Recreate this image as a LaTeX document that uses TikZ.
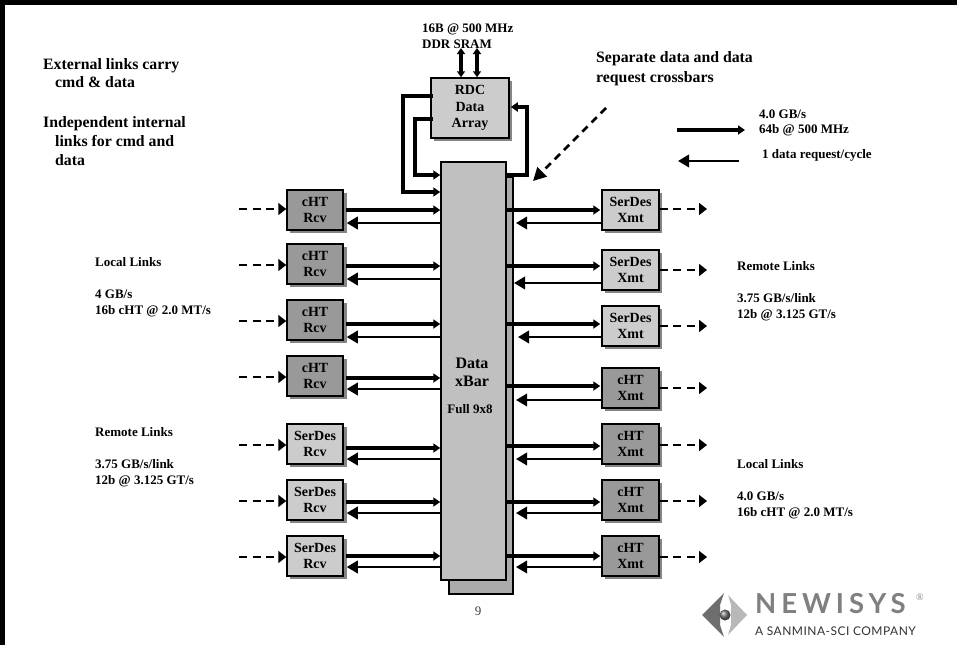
\documentclass[tikz,border=0pt]{standalone}
\usepackage{fontspec}
\setmainfont{Liberation Serif}
\newfontfamily\logofont[LetterSpace=18]{Lato}
\newfontfamily\logosub[LetterSpace=4]{Lato}
\usetikzlibrary{arrows.meta,shadings}
\definecolor{chtgray}{HTML}{999999}
\definecolor{sergray}{HTML}{CCCCCC}
\definecolor{bargray}{HTML}{C0C0C0}
\definecolor{backgray}{HTML}{ABABAB}
\definecolor{shadowgray}{HTML}{858585}
\definecolor{logodark}{HTML}{6E6E6E}
\definecolor{logotext}{HTML}{808080}
\tikzset{
  x=1pt,y=-1pt,
  blockbase/.style={draw=black,line width=1.5pt,inner sep=0pt,align=center,
    minimum width=56pt,minimum height=40pt,font=\bfseries\fontsize{14}{16.5}\selectfont},
  chtbox/.style={blockbase,fill=chtgray},
  serbox/.style={blockbase,fill=sergray},
  shadowbox/.style={fill=shadowgray,draw=none},
  label/.style={inner sep=0pt,anchor=base west,font=\bfseries\fontsize{13}{15}\selectfont},
  biglabel/.style={inner sep=0pt,anchor=base west,font=\bfseries\fontsize{15.8}{18}\selectfont},
  thickarrow/.style={line width=4pt,-{Triangle[length=7pt,width=9pt]}},
  thinarrow/.style={line width=2pt,-{Triangle[length=11pt,width=12.5pt]}},
  dasharrow/.style={line width=1.8pt,dash pattern=on 8pt off 5.5pt,-{Triangle[length=8pt,width=12pt]}},
  looparrow/.style={line width=3.5pt,line join=miter,-{Triangle[length=7pt,width=9pt]}},
  busarrow/.style={line width=3.5pt,{Triangle[length=6pt,width=8pt]}-{Triangle[length=6pt,width=8pt]}},
}
\begin{document}
\begin{tikzpicture}
\useasboundingbox (0,0) rectangle (957,645);
\fill[white] (0,0) rectangle (957,645);
% frame
\fill[black] (0,0) rectangle (957,4.5);
\fill[black] (0,0) rectangle (5,645);

% crossbar
\draw[fill=backgray,line width=1.5pt] (449,177) rectangle (513,594);
\node[blockbase,fill=bargray,minimum width=65pt,minimum height=418pt] (bar) at (473.5,371) {};
\node[font=\bfseries\fontsize{16}{18}\selectfont,inner sep=0pt,align=center] (barlabel) at (472,372) {Data\\xBar};
\node[font=\bfseries\fontsize{13}{15}\selectfont,inner sep=0pt] (barsub) at (470,409) {Full 9x8};

% RDC
\fill[shadowbox] (434,81) rectangle (512,141);
\node[blockbase,fill=sergray,minimum width=78pt,minimum height=60pt] (rdc) at (470,108) {RDC\\Data\\Array};

% left column
\foreach \n/\cy/\kind/\a/\b/\yt/\yb/\yd in {
 1/210/chtbox/cHT/Rcv/210/223/209,
 2/264/chtbox/cHT/Rcv/266/279/265,
 3/320/chtbox/cHT/Rcv/324/337/321,
 4/376/chtbox/cHT/Rcv/378/389/377,
 5/444/serbox/SerDes/Rcv/448/459/445,
 6/500/serbox/SerDes/Rcv/502/513/501,
 7/556/serbox/SerDes/Rcv/556/567/557}{
  \fill[shadowbox] (290,\cy-17) rectangle (346.5,\cy+23);
  \node[\kind] (r\n) at (315,\cy) {\a\\\b};
  \coordinate (rt\n) at (0,\yt);
  \coordinate (rb\n) at (0,\yb);
  \coordinate (rd\n) at (0,\yd);
  \coordinate (rs\n) at (239,\yd);
  \draw[thickarrow] ([xshift=2pt]r\n.east |- rt\n) -- (bar.west |- rt\n);
  \draw[thinarrow] (bar.west |- rb\n) -- ([xshift=3pt]r\n.east |- rb\n);
  \draw[dasharrow] (rs\n) -- (r\n.west |- rd\n);
}

% right column
\foreach \n/\cy/\kind/\a/\b/\yt/\yb/\yd/\tip in {
 1/210/serbox/SerDes/Xmt/210/223/209/516,
 2/270/serbox/SerDes/Xmt/266/283/270/514,
 3/326/serbox/SerDes/Xmt/324/337/326/518,
 4/388/chtbox/cHT/Xmt/386/400/388/516,
 5/444/chtbox/cHT/Xmt/446/459/445/516,
 6/500/chtbox/cHT/Xmt/502/513/501/516,
 7/556/chtbox/cHT/Xmt/556/567/557/516}{
  \fill[shadowbox] (605,\cy-17) rectangle (662,\cy+23);
  \node[\kind,minimum width=57pt] (x\n) at (630.5,\cy) {\a\\\b};
  \coordinate (xt\n) at (0,\yt);
  \coordinate (xb\n) at (\tip,\yb);
  \coordinate (xd\n) at (707,\yd);
  \draw[thickarrow] (bar.east |- xt\n) -- ([xshift=-1pt]x\n.west |- xt\n);
  \draw[thinarrow] (x\n.west |- xb\n) -- (xb\n);
  \draw[dasharrow] (x\n.east |- xd\n) -- (xd\n);
}

% RDC connections
\coordinate (rdcA) at (470,96);
\coordinate (rdcB) at (470,119);
\coordinate (barA) at (470,192);
\coordinate (barB) at (470,175);
\coordinate (rdcC) at (470,107);
\draw[looparrow] ([xshift=3pt]rdc.west |- rdcA) -| (403,192) -- (bar.west |- barA);
\draw[looparrow] ([xshift=3pt]rdc.west |- rdcB) -| (415,175) -- (bar.west |- barB);
\draw[looparrow] (bar.east |- barB) -| (527,107) -- ([xshift=1pt]rdc.east |- rdcC);
\coordinate (ddrA) at (461,48);
\coordinate (ddrB) at (477,48);
\draw[busarrow] (ddrA) -- (ddrA |- rdc.north);
\draw[busarrow] (ddrB) -- (ddrB |- rdc.north);

% annotation arrow
\coordinate (noteStart) at (606,108);
\coordinate (noteTip) at (533,181);
\draw[line width=2.6pt,dash pattern=on 7.5pt off 5.5pt,-{Triangle[length=13pt,width=13pt]}] (noteStart) -- (noteTip);

% legend
\coordinate (lgA) at (677,130);
\coordinate (lgB) at (745,130);
\coordinate (lgC) at (739,161);
\coordinate (lgD) at (678,161);
\draw[thickarrow] (lgA) -- (lgB);
\draw[thinarrow] (lgC) -- (lgD);

% text
\node[biglabel] (t1) at (43,69) {External links carry};
\node[biglabel] (t2) at (55,87) {cmd \& data};
\node[biglabel] (t3) at (43,127) {Independent internal};
\node[biglabel] (t4) at (55,146) {links for cmd and};
\node[biglabel] (t5) at (55,165) {data};
\node[biglabel] (t6) at (596,62) {Separate data and data};
\node[biglabel] (t7) at (596,82) {request crossbars};
\node[label] (t8) at (422,32) {16B @ 500 MHz};
\node[label] (t9) at (422,48) {DDR SRAM};
\node[label] (t10) at (759,118) {4.0 GB/s};
\node[label] (t11) at (759,133) {64b @ 500 MHz};
\node[label] (t12) at (762,158) {1 data request/cycle};
\node[label] (t13) at (95,266) {Local Links};
\node[label] (t14) at (95,298) {4 GB/s};
\node[label] (t15) at (95,314) {16b cHT @ 2.0 MT/s};
\node[label] (t16) at (95,436) {Remote Links};
\node[label] (t17) at (95,468) {3.75 GB/s/link};
\node[label] (t18) at (95,484) {12b @ 3.125 GT/s};
\node[label] (t19) at (737,270) {Remote Links};
\node[label] (t20) at (737,302) {3.75 GB/s/link};
\node[label] (t21) at (737,318) {12b @ 3.125 GT/s};
\node[label] (t22) at (737,468) {Local Links};
\node[label] (t23) at (737,500) {4.0 GB/s};
\node[label] (t24) at (737,516) {16b cHT @ 2.0 MT/s};
\node[inner sep=0pt,font=\fontsize{13}{15}\selectfont,text=black!75] (page) at (478,611) {9};

% logo
\fill[logodark] (702,615) -- (724,593) -- (720,605) -- (720,625) -- (724,637) -- cycle;
\fill[black!28] (747,615) -- (728,595) -- (731,605) -- (731,625) -- (728,635) -- cycle;
\shade[ball color=black!55] (725,615) circle (5.5);
\node[inner sep=0pt,anchor=base west,text=logotext,font=\logofont\bfseries\fontsize{27.5}{29}\selectfont] (logoA) at (755,613) {NEWISYS};
\node[inner sep=0pt,anchor=base west,text=logotext,font=\fontsize{10}{11}\selectfont] (logoR) at (916,600) {®};
\node[inner sep=0pt,anchor=base west,text=black!80,font=\logosub\fontsize{12}{13}\selectfont] (logoB) at (755,635) {A SANMINA-SCI COMPANY};
\end{tikzpicture}
\end{document}
